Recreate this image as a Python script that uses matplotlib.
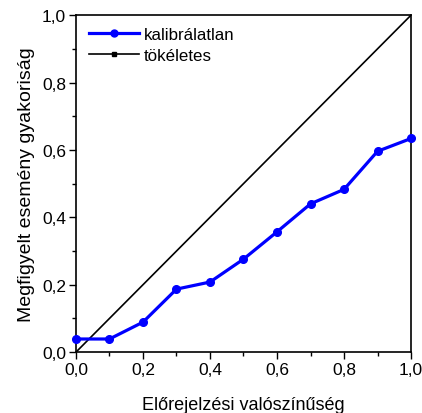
import matplotlib
matplotlib.use("Agg")
import matplotlib.pyplot as plt
from matplotlib.ticker import MultipleLocator, FuncFormatter
from matplotlib.lines import Line2D

plt.rcParams['font.family'] = ['Liberation Sans', 'DejaVu Sans']

# Forecast probability bins and observed event frequencies
predicted = [0.0, 0.1, 0.2, 0.3, 0.4, 0.5, 0.6, 0.7, 0.8, 0.9, 1.0]
observed = [0.039, 0.039, 0.089, 0.187, 0.208, 0.276, 0.357, 0.440, 0.483, 0.596, 0.634]
perfect_x = [0.0, 1.0]
perfect_y = [0.0, 1.0]

series_labels = ["kalibrálatlan", "tökéletes"]
x_label = "Előrejelzési valószínűség"
y_label = "Megfigyelt esemény gyakoriság"

fig = plt.figure(figsize=(4.22, 4.14), dpi=100)
ax = fig.add_axes([0.180, 0.147, 0.794, 0.814])

ax.plot(predicted, observed, color="#0000ff", lw=2.3, marker="o", ms=5.5,
        label=series_labels[0], clip_on=False, zorder=3)
ax.plot(perfect_x, perfect_y, color="black", lw=1.2,
        label=series_labels[1], zorder=2)

ax.set_xlim(0, 1)
ax.set_ylim(0, 1)

comma = FuncFormatter(lambda v, p: f"{v:.1f}".replace(".", ","))
for axis in (ax.xaxis, ax.yaxis):
    axis.set_major_locator(MultipleLocator(0.2))
    axis.set_minor_locator(MultipleLocator(0.1))
    axis.set_major_formatter(comma)

ax.tick_params(which="major", direction="out", length=5, width=1, labelsize=12.5,
               top=False, right=False, pad=2)
ax.tick_params(which="minor", direction="out", length=3, width=1,
               top=False, right=False)
for s in ax.spines.values():
    s.set_linewidth(1.2)

ax.set_xlabel(x_label, fontsize=13, labelpad=14)
ax.set_ylabel(y_label, fontsize=14, labelpad=5)

# Legend: perfect-calibration entry shows a small square marker
handles, labels = ax.get_legend_handles_labels()
handles[0] = Line2D([], [], color="#0000ff", lw=2.3, marker="o", ms=5)
handles[1] = Line2D([], [], color="black", lw=1.2, marker="s", ms=2.2)
ax.legend(handles, labels, loc="upper left", frameon=False, fontsize=12.2,
          handlelength=2.9, handletextpad=0.3, labelspacing=0.35,
          borderaxespad=0.0, bbox_to_anchor=(0.02, 0.985))

fig.savefig("out.png", dpi=100)
